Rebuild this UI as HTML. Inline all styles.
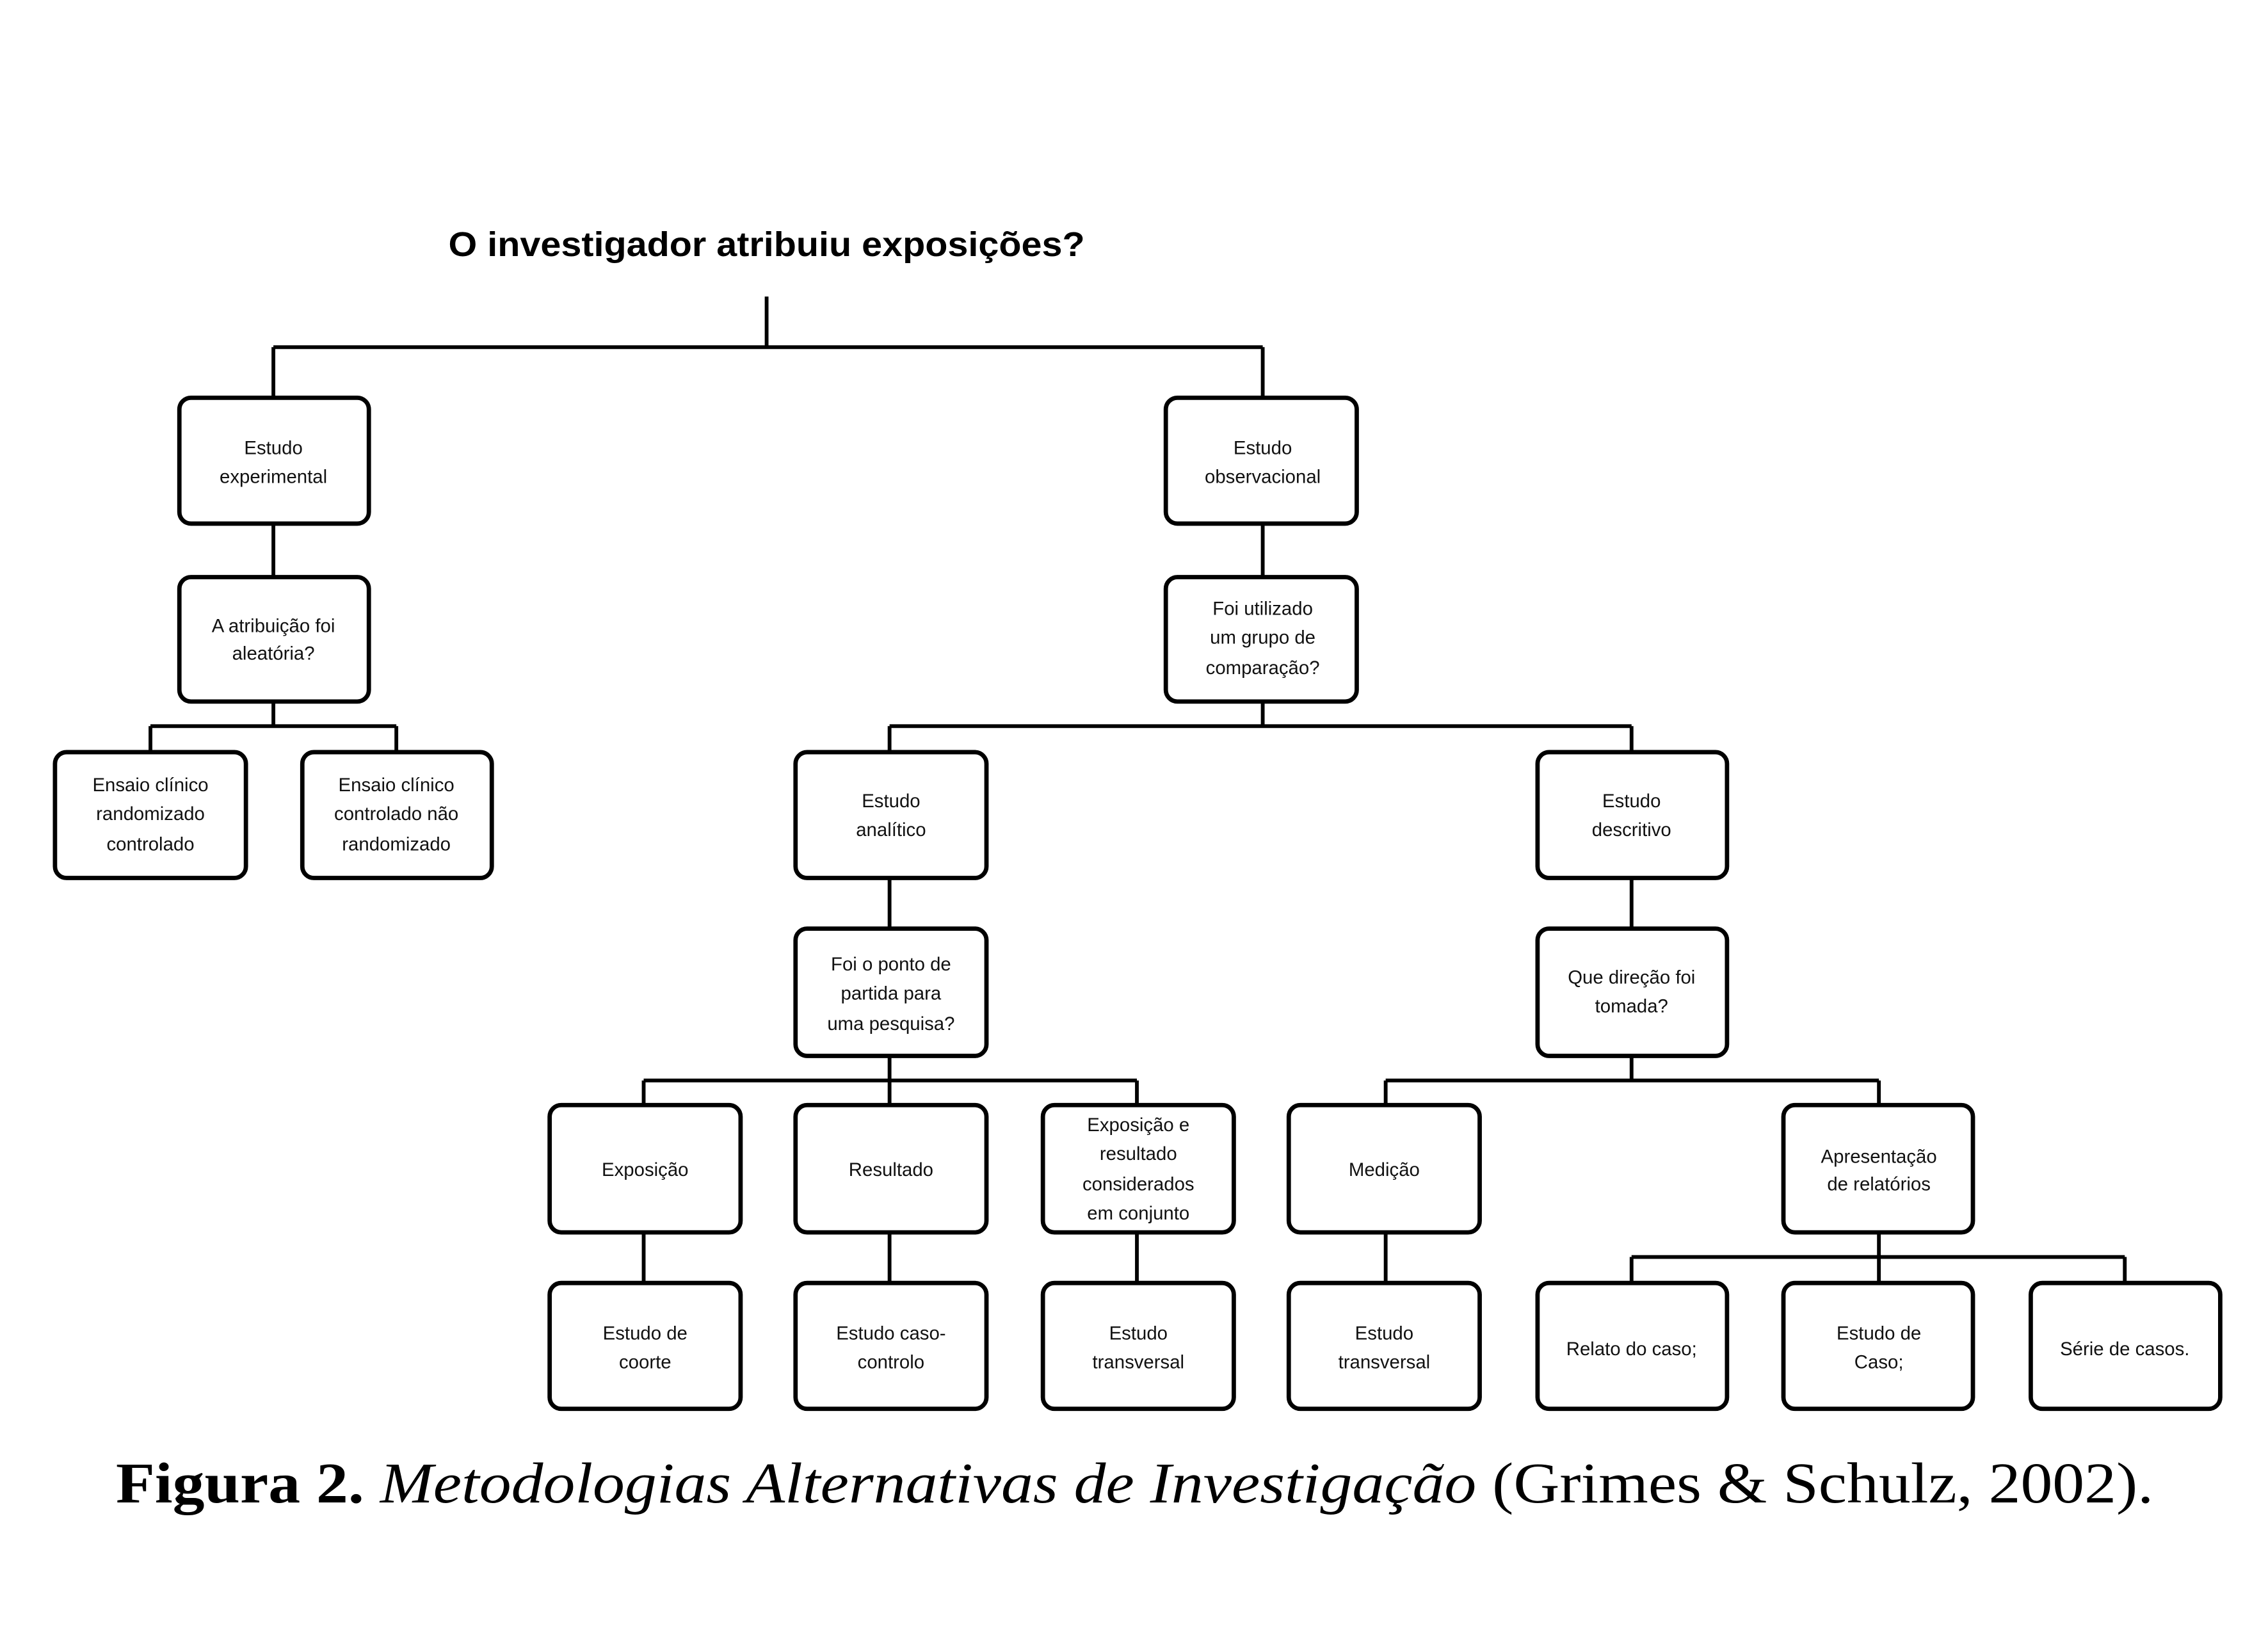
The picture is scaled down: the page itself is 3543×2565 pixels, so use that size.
<!DOCTYPE html>
<html><head><meta charset="utf-8"><style>
html,body{margin:0;padding:0;background:#fff}
body{position:relative;width:3543px;height:2565px;overflow:hidden}
svg{display:block;position:absolute;left:0;top:0}
.b{fill:#fff;stroke:#000;stroke-width:3}
.l{stroke:#000;stroke-width:2.6;fill:none}
.t{font-family:"Liberation Sans",sans-serif;font-size:13px;text-anchor:middle;fill:#111}
.ti{font-family:"Liberation Sans",sans-serif;font-weight:bold;font-size:24px}
#cap{position:absolute;left:181px;top:2268px;font-family:"Liberation Serif","Times New Roman",Times,serif;font-size:90px;line-height:100px;white-space:nowrap;color:#000;transform:scaleX(1.108);transform-origin:0 0}
</style></head><body>
<svg width="3543" height="2565" viewBox="0 0 1568 1135.2" xmlns="http://www.w3.org/2000/svg">
<text class="ti" x="310" y="177" textLength="440" lengthAdjust="spacingAndGlyphs">O investigador atribuiu exposições?</text>
<g class="l">
<path d="M530 205V240M189 240H873M189 240V275M873 240V275"/>
<path d="M189 362V399M873 362V399"/>
<path d="M189 485V502M104 502H274M104 502V520M274 502V520"/>
<path d="M873 485V502M615 502H1128M615 502V520M1128 502V520"/>
<path d="M615 607V642M1128 607V642"/>
<path d="M615 730V747M445 747H786M445 747V764M615 747V764M786 747V764"/>
<path d="M1128 730V747M958 747H1299M958 747V764M1299 747V764"/>
<path d="M445 852V887M615 852V887M786 852V887M958 852V887"/>
<path d="M1299 852V869M1128 869H1469M1128 869V887M1299 869V887M1469 869V887"/>
</g>
<g class="b">
<rect x="124" y="275" width="131" height="87" rx="8"/>
<rect x="124" y="399" width="131" height="86" rx="8"/>
<rect x="38" y="520" width="132" height="87" rx="8"/>
<rect x="209" y="520" width="131" height="87" rx="8"/>
<rect x="806" y="275" width="132" height="87" rx="8"/>
<rect x="806" y="399" width="132" height="86" rx="8"/>
<rect x="550" y="520" width="132" height="87" rx="8"/>
<rect x="1063" y="520" width="131" height="87" rx="8"/>
<rect x="550" y="642" width="132" height="88" rx="8"/>
<rect x="1063" y="642" width="131" height="88" rx="8"/>
<rect x="380" y="764" width="132" height="88" rx="8"/>
<rect x="550" y="764" width="132" height="88" rx="8"/>
<rect x="721" y="764" width="132" height="88" rx="8"/>
<rect x="891" y="764" width="132" height="88" rx="8"/>
<rect x="1233" y="764" width="131" height="88" rx="8"/>
<rect x="380" y="887" width="132" height="87" rx="8"/>
<rect x="550" y="887" width="132" height="87" rx="8"/>
<rect x="721" y="887" width="132" height="87" rx="8"/>
<rect x="891" y="887" width="132" height="87" rx="8"/>
<rect x="1063" y="887" width="131" height="87" rx="8"/>
<rect x="1233" y="887" width="131" height="87" rx="8"/>
<rect x="1404" y="887" width="131" height="87" rx="8"/>
</g>
<g class="t">
<text x="189" y="314">Estudo</text><text x="189" y="334">experimental</text>
<text x="189" y="437">A atribuição  foi</text><text x="189" y="456">aleatória?</text>
<text x="104" y="547">Ensaio clínico</text><text x="104" y="567">randomizado</text><text x="104" y="588">controlado</text>
<text x="274" y="547">Ensaio clínico</text><text x="274" y="567">controlado  não</text><text x="274" y="588">randomizado</text>
<text x="873" y="314">Estudo</text><text x="873" y="334">observacional</text>
<text x="873" y="425">Foi utilizado</text><text x="873" y="445">um grupo de</text><text x="873" y="466">comparação?</text>
<text x="616" y="558">Estudo</text><text x="616" y="578">analítico</text>
<text x="1128" y="558">Estudo</text><text x="1128" y="578">descritivo</text>
<text x="616" y="671">Foi o ponto de</text><text x="616" y="691">partida  para</text><text x="616" y="712">uma pesquisa?</text>
<text x="1128" y="680">Que direção foi</text><text x="1128" y="700">tomada?</text>
<text x="446" y="813">Exposição</text>
<text x="616" y="813">Resultado</text>
<text x="787" y="782">Exposição e</text><text x="787" y="802">resultado</text><text x="787" y="823">considerados</text><text x="787" y="843">em conjunto</text>
<text x="957" y="813">Medição</text>
<text x="1299" y="804">Apresentação</text><text x="1299" y="823">de relatórios</text>
<text x="446" y="926">Estudo de</text><text x="446" y="946">coorte</text>
<text x="616" y="926">Estudo caso-</text><text x="616" y="946">controlo</text>
<text x="787" y="926">Estudo</text><text x="787" y="946">transversal</text>
<text x="957" y="926">Estudo</text><text x="957" y="946">transversal</text>
<text x="1128" y="937">Relato  do caso;</text>
<text x="1299" y="926">Estudo de</text><text x="1299" y="946">Caso;</text>
<text x="1469" y="937">Série de casos.</text>
</g>
</svg>
<div id="cap"><b>Figura 2.</b> <i>Metodologias Alternativas de Investigação</i> (Grimes &amp; Schulz, 2002).</div>
</body></html>
